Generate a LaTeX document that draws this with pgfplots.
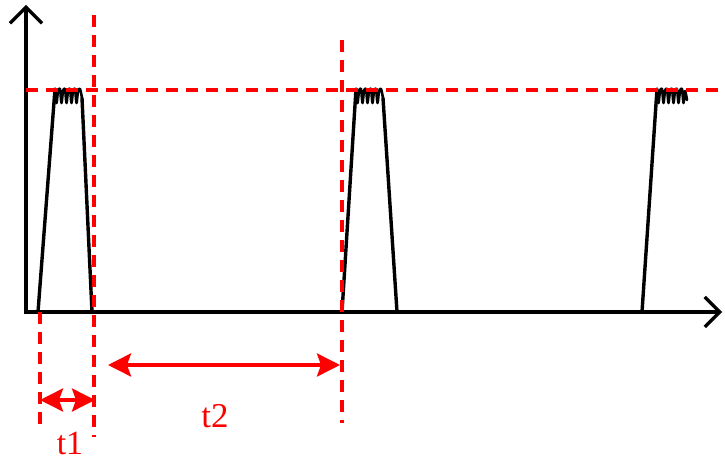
\documentclass[border=0pt]{standalone}
\usepackage{pgfplots}
\pgfplotsset{compat=1.18}
\usepackage{fontspec}
\setmainfont{Liberation Serif}
\usetikzlibrary{arrows.meta}
\definecolor{sigred}{RGB}{255,0,0}
\begin{document}
\begin{tikzpicture}
\begin{axis}[
    width=725bp, height=466bp, scale only axis,
    xmin=0, xmax=725, ymin=-154, ymax=312,
    axis lines=none, ticks=none, clip=false,
    signal/.style={black, line width=3.4bp, line join=round, line cap=round},
    wiggle/.style={black, line width=2.6bp, line join=round, line cap=round, smooth, tension=0.5},
    dash/.style={sigred, line width=3.4bp, dash pattern=on 12bp off 8bp},
    span/.style={sigred, line width=3.6bp, {Stealth[length=23bp,width=23bp,inset=4bp]}-{Stealth[length=23bp,width=23bp,inset=4bp]}},
]
% axes
\addplot[black, line width=3.2bp, line cap=rect, -{Straight Barb[length=16bp,width=32bp]}] coordinates {(26,0) (26,307)};
\addplot[black, line width=3.2bp, line cap=rect, -{Straight Barb[length=15bp,width=30bp]}] coordinates {(26,0) (722,0)};

% pulse 1
\addplot[signal] coordinates {(38,0) (55,223)};
\addplot[wiggle] coordinates {
    (55,223) (56.5,209) (58,221) (60,223) (61.5,209) (63,221) (65,223) (66.5,209)
    (68,221) (70,223) (71.5,209) (73,221) (75,223) (76.5,209) (78,221) (80,223) (82,214)};
\addplot[signal] coordinates {(82,214) (92,0) (140,0)};

% pulse 2
\addplot[signal] coordinates {(342,0) (356,223)};
\addplot[wiggle] coordinates {
    (356,223) (357.5,209) (359,221) (361,223) (362.5,209) (364,221) (366,223) (367.5,209)
    (369,221) (371,223) (372.5,209) (374,221) (376,223) (377.5,209) (379,221) (381,223) (383,214)};
\addplot[signal] coordinates {(383,214) (397,0) (487,0)};

% pulse 3
\addplot[signal] coordinates {(642,0) (657,223)};
\addplot[wiggle] coordinates {
    (657,223) (658.5,209) (660,221) (662,223) (663.5,209) (665,221) (667,223) (668.5,209)
    (670,221) (672,223) (673.5,209) (675,221) (677,223) (678.5,209) (680,221) (682,223)
    (683.5,209) (685,221) (687,212)};

% reference lines
\addplot[dash] coordinates {(26,222) (725,222)};
\addplot[dash] coordinates {(94,297) (94,-125)};
\addplot[dash] coordinates {(40,0) (40,-113)};
\addplot[dash] coordinates {(342,272) (342,-111)};

% time spans
\addplot[span] coordinates {(40,-88) (95,-88)};
\addplot[span] coordinates {(108,-53) (340,-53)};

\node[sigred, inner sep=0pt, font=\fontsize{34}{36}\selectfont] at (axis cs:70,-131) {t1};
\node[sigred, inner sep=0pt, font=\fontsize{35}{38}\selectfont] at (axis cs:215,-104) {t2};
\end{axis}
\pgfresetboundingbox
\useasboundingbox (current axis.south west) rectangle (current axis.north east);
\end{tikzpicture}
\end{document}
